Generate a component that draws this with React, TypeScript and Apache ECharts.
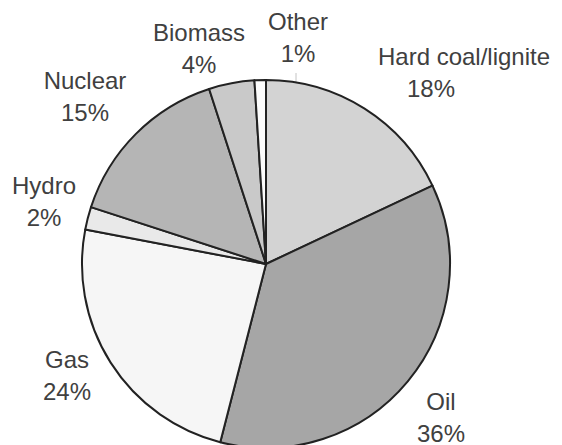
import React, { useEffect, useRef } from "react";
import * as echarts from "echarts";

// Energy mix shares (percent), clockwise from 12 o'clock
const sources = ["Hard coal/lignite", "Oil", "Gas", "Hydro", "Nuclear", "Biomass", "Other"];
const shares = [18, 36, 24, 2, 15, 4, 1];
const sliceColors = ["#d3d3d3", "#a6a6a6", "#f6f6f6", "#e9e9e9", "#b5b5b5", "#c9c9c9", "#fbfbfb"];

// Label block centres (pixels), same order as sources
const labelCenters: [number, number][] = [
  [464, 72],
  [441, 417],
  [67, 375],
  [44, 201],
  [85, 96],
  [199, 48],
  [298, 37],
];

const FONT = "'Liberation Sans', Arial, Helvetica, sans-serif";
const TEXT_COLOR = "#404040";

export default function App() {
  const ref = useRef<HTMLDivElement>(null);

  useEffect(() => {
    if (!ref.current) return;
    const chart = echarts.init(ref.current, undefined, { renderer: "svg" });

    const rich = {
      n: { fontSize: 24, lineHeight: 32, color: TEXT_COLOR, fontFamily: FONT },
      p: { fontSize: 24, lineHeight: 32, color: TEXT_COLOR, fontFamily: FONT },
      // percentage line under the long coal label sits left of the name's centre
      q: { fontSize: 24, lineHeight: 32, color: TEXT_COLOR, fontFamily: FONT, padding: [0, 66, 0, 0] },
    };

    chart.setOption({
      animation: false,
      backgroundColor: "#ffffff",
      series: [
        {
          type: "pie",
          center: [266, 264],
          radius: 184,
          startAngle: 90,
          clockwise: true,
          avoidLabelOverlap: false,
          silent: true,
          itemStyle: { borderColor: "#222222", borderWidth: 2 },
          label: {
            show: true,
            position: "outside",
            fontFamily: FONT,
            formatter: (p: any) =>
              p.dataIndex === 0 ? `{n|${p.name}}\n{q|${p.value}%}` : `{n|${p.name}}\n{p|${p.value}%}`,
            rich,
          },
          labelLine: { show: false },
          labelLayout: (params: any) => {
            const c = labelCenters[params.dataIndex];
            return { x: c[0], y: c[1], align: "center", verticalAlign: "middle" };
          },
          data: sources.map((name, i) => ({
            name,
            value: shares[i],
            itemStyle: { color: sliceColors[i] },
          })),
        },
      ],
      graphic: [
        {
          type: "polyline",
          silent: true,
          shape: { points: [[282, 84], [296, 84], [296, 73]] },
          style: { stroke: "#c4c4c4", lineWidth: 1, fill: "none" },
        },
      ],
    });

    return () => chart.dispose();
  }, []);

  return (
    <div
      ref={ref}
      style={{ position: "fixed", left: 0, top: 0, width: 562, height: 445, background: "#fff" }}
    />
  );
}
